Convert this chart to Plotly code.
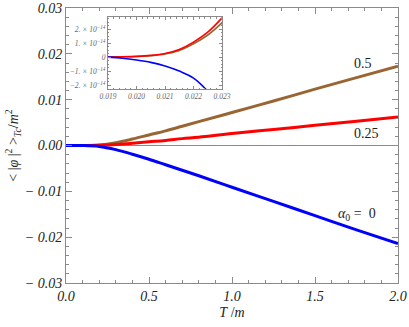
import plotly.graph_objects as go

# Main panel data (T/m vs <|phi|^2>/m^2)
T = [0, 0.1, 0.2, 0.3, 0.4, 0.5, 0.6, 0.7, 0.8, 1.0, 1.25, 1.5, 1.75, 2.0]
alpha_05 = [0, 0, 0.0001, 0.0006, 0.0014, 0.0023, 0.0032, 0.0042, 0.0052, 0.0072, 0.0097,
            0.0123, 0.0148, 0.0173]
alpha_025 = [0, 0, 0.00005, 0.0002, 0.0005, 0.0008, 0.0011, 0.0015, 0.0018, 0.0026, 0.0035,
             0.0044, 0.0053, 0.0062]
alpha_0 = [0, 0, -0.0002, -0.0009, -0.0019, -0.0030, -0.0042, -0.0054, -0.0066, -0.0091, -0.0122,
           -0.0153, -0.0184, -0.0214]

# Inset data (units of 1e-14)
T_in = [0.019, 0.0195, 0.020, 0.0205, 0.021, 0.0215, 0.022, 0.0225, 0.023]
in_025 = [0.01, 0.02, 0.05, 0.12, 0.26, 0.55, 1.07, 1.78, 2.8]
in_05 = [0.01, 0.02, 0.04, 0.10, 0.22, 0.48, 0.95, 1.58, 2.45]
in_0 = [0.0, -0.08, -0.21, -0.38, -0.63, -1.0, -1.5, -2.45, -3.8]

main_yticks = [-0.03, -0.02, -0.01, 0.0, 0.01, 0.02, 0.03]
main_yticktext = ["− 0.03", "− 0.02", "− 0.01", "0.00", "0.01", "0.02", "0.03"]
main_xticks = [0.0, 0.5, 1.0, 1.5, 2.0]
main_xticktext = ["0.0", "0.5", "1.0", "1.5", "2.0"]
in_yticks = [-2, -1, 0, 1, 2]
in_yticktext = ["−2. × 10<sup>−14</sup>", "−1. × 10<sup>−14</sup>", "0",
                "1. × 10<sup>−14</sup>", "2. × 10<sup>−14</sup>"]
in_xticks = [0.019, 0.020, 0.021, 0.022, 0.023]
in_xticktext = ["0.019", "0.020", "0.021", "0.022", "0.023"]

BLUE = "rgb(0,0,255)"
RED = "rgb(255,0,0)"
BROWN = "rgb(153,102,51)"
FRAME = "#8a8a8a"
SERIF = "Liberation Serif"

fig = go.Figure()
for y, c in [(alpha_05, BROWN), (alpha_025, RED), (alpha_0, BLUE)]:
    fig.add_trace(go.Scatter(x=T, y=y, mode="lines", line=dict(color=c, width=3, shape="spline"),
                             xaxis="x", yaxis="y", showlegend=False, hoverinfo="skip"))
for y, c in [(in_05, BROWN), (in_025, RED), (in_0, BLUE)]:
    fig.add_trace(go.Scatter(x=T_in, y=y, mode="lines", line=dict(color=c, width=1.6, shape="spline"),
                             xaxis="x2", yaxis="y2", showlegend=False, hoverinfo="skip"))

main_axis_common = dict(showline=True, linecolor=FRAME, linewidth=1, mirror="ticks", ticks="inside",
                        tickcolor=FRAME, showgrid=False, zeroline=False, automargin=False,
                        tickfont=dict(family=SERIF, size=14, color="#222", style="italic"))

fig.update_layout(
    width=409, height=327,
    margin=dict(l=66, r=11, t=8, b=44, autoexpand=False),
    paper_bgcolor="white", plot_bgcolor="white",
    xaxis=dict(range=[0, 2], domain=[0, 1], tickvals=main_xticks, ticktext=main_xticktext,
               ticklen=6,
               minor=dict(dtick=0.1, ticks="inside", ticklen=3, tickcolor=FRAME, showgrid=False),
               title=dict(text="<i>T</i> /<i>m</i>", font=dict(family=SERIF, size=14, color="#222"),
                          standoff=4),
               **main_axis_common),
    yaxis=dict(range=[-0.03, 0.03], domain=[0, 1], tickvals=main_yticks, ticktext=main_yticktext,
               ticklen=6,
               minor=dict(dtick=0.002, ticks="inside", ticklen=3, tickcolor=FRAME, showgrid=False),
               title=dict(text="< |<i>φ</i> |<sup>2</sup> ><sub><i>Tc</i></sub>/<i>m</i><sup>2</sup>",
                          font=dict(family=SERIF, size=14, color="#222"), standoff=2),
               **main_axis_common),
    xaxis2=dict(range=[0.019, 0.023], domain=[0.1265, 0.47], anchor="y2",
                tickvals=in_xticks, ticktext=in_xticktext, automargin=False,
                showline=True, linecolor=FRAME, linewidth=1, mirror="ticks", ticks="inside",
                ticklen=3, tickcolor=FRAME, showgrid=False, zeroline=False,
                minor=dict(dtick=0.0002, ticks="inside", ticklen=1.5, tickcolor=FRAME),
                tickfont=dict(family=SERIF, size=7.5, color="#666", style="italic")),
    yaxis2=dict(range=[-2.29, 2.86], domain=[0.705, 0.967], anchor="x2",
                tickvals=in_yticks, ticktext=in_yticktext, automargin=False,
                showline=True, linecolor=FRAME, linewidth=1, mirror="ticks", ticks="inside",
                ticklen=3, tickcolor=FRAME, showgrid=False, zeroline=False,
                minor=dict(dtick=0.25, ticks="inside", ticklen=1.5, tickcolor=FRAME),
                tickfont=dict(family=SERIF, size=7.5, color="#666", style="italic")),
    shapes=[dict(type="line", xref="x", yref="y", x0=0, x1=2, y0=0, y1=0,
                 line=dict(color=FRAME, width=1), layer="below")],
    annotations=[
        dict(x=1.79, y=0.018, xref="x", yref="y", text="0.5", showarrow=False,
             font=dict(family=SERIF, size=14, color="#222")),
        dict(x=1.81, y=0.0027, xref="x", yref="y", text="0.25", showarrow=False,
             font=dict(family=SERIF, size=14, color="#222")),
        dict(x=1.75, y=-0.0151, xref="x", yref="y", text="<i>α</i><sub>0</sub> =  0", showarrow=False,
             font=dict(family=SERIF, size=14, color="#222")),
    ],
)

fig.write_html("out.html", config={"displayModeBar": False},
               post_script="document.body.style.margin='0';")
